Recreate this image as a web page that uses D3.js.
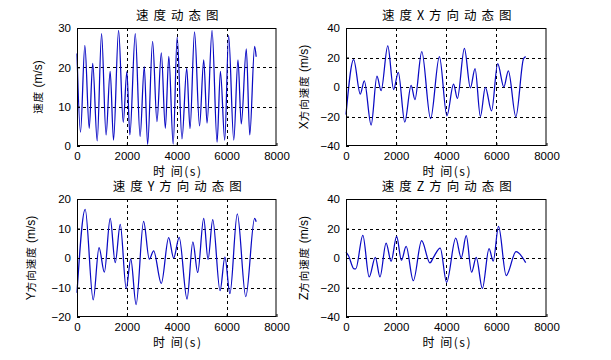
<!DOCTYPE html>
<html>
<head>
<meta charset="utf-8">
<script src="https://cdn.jsdelivr.net/npm/d3@7"></script>
<style>
  html, body { margin: 0; padding: 0; background: #fff; }
  svg { display: block; }
</style>
</head>
<body>
<svg id="chart" width="611" height="360"></svg>
<script>
// ---------------- data ----------------
const xTicks = [0, 2000, 4000, 6000, 8000];

// 速度动态图 (speed magnitude) – extrema of the trace
const speedT = [0, 140, 315, 490, 630, 810, 985, 1165, 1330, 1465, 1667, 1855, 2000, 2120, 2337, 2530, 2698, 2832, 3032, 3206, 3381, 3542, 3682, 3857, 4017, 4210, 4400, 4533, 4713, 4914, 5082, 5215, 5416, 5617, 5751, 5925, 6080, 6286, 6455, 6588, 6789, 6928, 7123, 7185];
const speedV = [23.5, 3.5, 25.6, 4.5, 21, 1.3, 28.6, 2.8, 19, 1.5, 29.4, 6, 18.9, 2.8, 28.6, 2.4, 20.2, 0.4, 26.6, 6.2, 23.7, 4.5, 22.8, 0.5, 27.7, 1.8, 19.8, 4.4, 29.0, 5.1, 21.9, 5.8, 29.4, 1.0, 19.0, 1.5, 28.1, 1.5, 21.9, 5.6, 24.7, 2.8, 25.3, 22.7];
const speedTicks = [0, 10, 20, 30];

// 速度X方向动态图
const velXT = [0, 305, 570, 730, 1003, 1235, 1400, 1667, 1900, 2086, 2345, 2598, 2750, 3023, 3375, 3727, 4026, 4292, 4445, 4724, 4963, 5150, 5362, 5560, 5808, 6052, 6298, 6478, 6777, 7083, 7170];
const velXV = [-18.7, 18.6, -4.8, 4.2, -25.8, 7.3, -2.5, 27.9, -1.7, 10.0, -23.8, 1.1, -8.5, 24.0, -21.5, 20.6, -19.5, 1.9, -7.7, 26.2, -0.6, 12.5, -20.0, -0.3, -16.2, 15.8, 0, 11.0, -20.2, 19.2, 20.6];
const velXTicks = [-40, -20, 0, 20, 40];

// 速度Y方向动态图
const velYT = [0, 328, 650, 883, 1097, 1332, 1533, 1734, 1975, 2156, 2370, 2671, 2899, 3073, 3381, 3676, 3876, 4097, 4412, 4646, 4840, 5081, 5255, 5443, 5737, 5932, 6132, 6428, 6768, 7123, 7185];
const velYV = [-11.8, 16.5, -14.2, 3.5, -4.8, 13.4, -1.6, 11.4, -10.4, -0.3, -15.8, 12.4, -0.4, 2.4, -8.6, 6.9, 0, 7.0, -13.9, 5.5, -4.9, 13.4, -0.5, 13.0, -11.1, 0.3, -12.1, 15.0, -13.1, 13.4, 12.3];
const velYTicks = [-20, -10, 0, 10, 20];

// 速度Z方向动态图
const velZT = [0, 100, 319, 390, 672, 924, 1170, 1356, 1600, 1800, 2020, 2212, 2400, 2685, 3017, 3349, 3500, 3760, 4014, 4379, 4598, 4797, 5010, 5196, 5441, 5708, 5874, 6086, 6392, 6785, 7170];
const velZV = [4.0, 1.5, -7.3, -7.3, 15.4, -12.8, 0.5, -12.8, 10.1, -2.2, 14.6, -1.5, 7.8, -15.4, 11.7, -3.3, 0.8, 6.7, -16.5, 13.4, 0.1, 15.1, -9.6, 0.4, -20.6, 6.4, -2.1, 21.4, -11.9, 4.3, -3.1];
const velZTicks = [-40, -20, 0, 20, 40];

const titles = ["速度动态图", "速度X方向动态图", "速度Y方向动态图", "速度Z方向动态图"];
const xLabel = "时 间(s)";

// ---------------- layout / drawing ----------------
const LATIN = "'Liberation Sans', Arial, sans-serif";
const CJK = "'Noto Sans CJK SC', 'Noto Sans', sans-serif";
const LINE = "#0a0ac4";

const panels = [
  { t: speedT, v: speedV, ticks: speedTicks, title: titles[0],
    ylab: [["CJK", "速度"], ["LAT", " (m/s)"]], box: { x: 77, y: 28, w: 199.5, h: 118 }, ylx: 39 },
  { t: velXT, v: velXV, ticks: velXTicks, title: titles[1],
    ylab: [["LAT", "X"], ["CJK", "方向速度"], ["LAT", " (m/s)"]], box: { x: 346, y: 28, w: 200.5, h: 118 }, ylx: 305 },
  { t: velYT, v: velYV, ticks: velYTicks, title: titles[2],
    ylab: [["LAT", "Y"], ["CJK", "方向速度"], ["LAT", " (m/s)"]], box: { x: 77, y: 199, w: 199.5, h: 118 }, ylx: 32 },
  { t: velZT, v: velZV, ticks: velZTicks, title: titles[3],
    ylab: [["LAT", "Z"], ["CJK", "方向速度"], ["LAT", " (m/s)"]], box: { x: 346, y: 199, w: 200.5, h: 118 }, ylx: 305 }
];

const svg = d3.select("#chart");
svg.append("rect").attr("width", 611).attr("height", 360).attr("fill", "#fff");

panels.forEach(p => {
  const b = p.box;
  const x = d3.scaleLinear().domain([xTicks[0], xTicks[xTicks.length - 1]]).range([b.x, b.x + b.w]);
  const y = d3.scaleLinear().domain([p.ticks[0], p.ticks[p.ticks.length - 1]]).range([b.y + b.h, b.y]);
  const g = svg.append("g");

  // grid (dashed) at interior ticks
  g.append("g").selectAll("line").data(xTicks.slice(1, -1)).join("line")
    .attr("x1", d => Math.round(x(d)) + 0.5).attr("x2", d => Math.round(x(d)) + 0.5)
    .attr("y1", b.y).attr("y2", b.y + b.h)
    .attr("stroke", "#000").attr("stroke-width", 1).attr("stroke-dasharray", "3,3");
  g.append("g").selectAll("line").data(p.ticks.slice(1, -1)).join("line")
    .attr("y1", d => Math.round(y(d)) + 0.5).attr("y2", d => Math.round(y(d)) + 0.5)
    .attr("x1", b.x).attr("x2", b.x + b.w)
    .attr("stroke", "#000").attr("stroke-width", 1).attr("stroke-dasharray", "3,3");

  // data line
  const pts = p.t.map((t, i) => [t, p.v[i]]);
  g.append("path").datum(pts)
    .attr("fill", "none").attr("stroke", LINE).attr("stroke-width", 1.25)
    .attr("d", d3.line().x(d => x(d[0])).y(d => y(d[1])).curve(d3.curveMonotoneX));

  // axes
  const xa = g.append("g").attr("transform", `translate(0,${b.y + b.h})`)
    .call(d3.axisBottom(x).tickValues(xTicks).tickFormat(d3.format("d")).tickSizeInner(-3).tickSizeOuter(0).tickPadding(6));
  const ya = g.append("g").attr("transform", `translate(${b.x},0)`)
    .call(d3.axisLeft(y).tickValues(p.ticks).tickFormat(d3.format("d")).tickSizeInner(-3).tickSizeOuter(0).tickPadding(6));
  [xa, ya].forEach(a => {
    a.select(".domain").remove();
    a.selectAll("line").attr("stroke", "#000");
    a.selectAll("text").attr("font-family", LATIN).attr("font-size", 11.5).attr("fill", "#000");
  });

  // box
  g.append("rect").attr("x", b.x + 0.5).attr("y", b.y + 0.5).attr("width", b.w - 1).attr("height", b.h - 1)
    .attr("fill", "none").attr("stroke", "#000").attr("stroke-width", 1);

  // title
  g.append("text").attr("x", b.x + b.w / 2 + 3).attr("y", b.y - 8.5)
    .attr("text-anchor", "middle").attr("font-family", CJK).attr("font-size", 12.5)
    .attr("letter-spacing", "5px").attr("fill", "#000").text(p.title);

  // x label
  g.append("text").attr("x", b.x + b.w / 2 + 1).attr("y", b.y + b.h + 29.5)
    .attr("text-anchor", "middle").attr("font-family", CJK).attr("font-size", 12)
    .attr("letter-spacing", "1.5px").attr("fill", "#000").text(xLabel);

  // y label (rotated)
  const yl = g.append("text")
    .attr("transform", `translate(${p.ylx},${b.y + b.h / 2}) rotate(-90)`)
    .attr("text-anchor", "middle").attr("dominant-baseline", "middle").attr("fill", "#000");
  p.ylab.forEach(([kind, txt]) => {
    yl.append("tspan")
      .attr("font-family", kind === "CJK" ? CJK : LATIN)
      .attr("font-size", kind === "CJK" ? 10.5 : 12)
      .attr("letter-spacing", kind === "CJK" ? "1px" : "0px")
      .text(txt);
  });
});
</script>
</body>
</html>
